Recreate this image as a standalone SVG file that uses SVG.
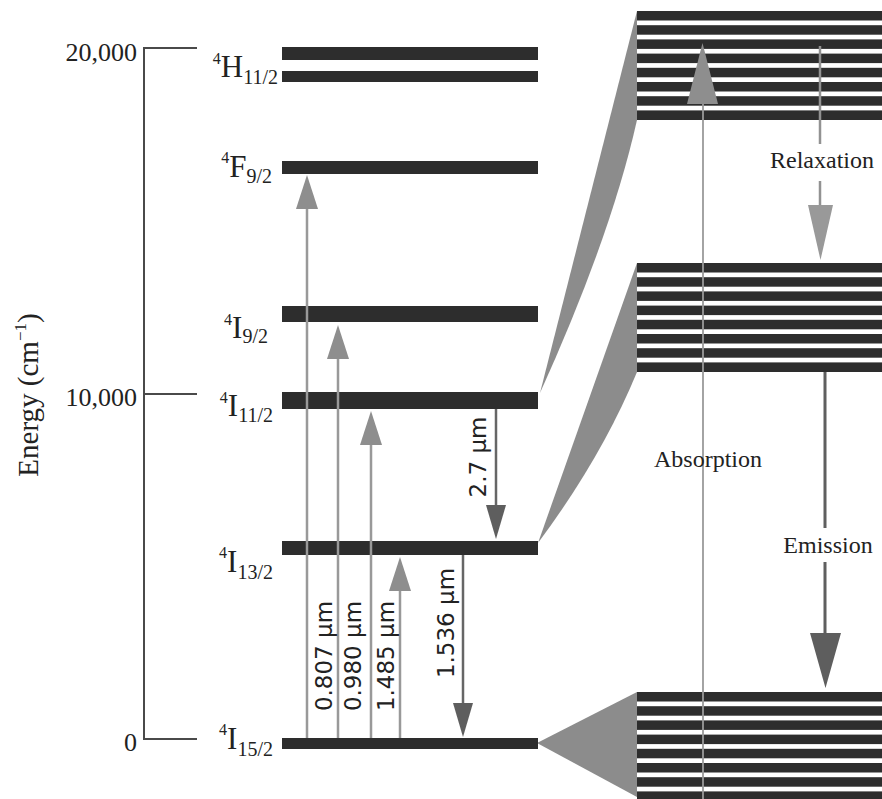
<svg xmlns="http://www.w3.org/2000/svg" width="882" height="799" viewBox="0 0 882 799">
<style>
.bar{fill:#2d2d2d}
.funnel{fill:#8c8c8c}
.axis{stroke:#4a4a4a;stroke-width:2;fill:none}
.serif{font-family:"Liberation Serif","Times New Roman",serif;fill:#222}
.lvl{font-size:31px}
.sup{font-size:16px}
.sub{font-size:20px}
.tick{font-size:26px}
.wl{font-family:"DejaVu Sans","Liberation Sans",sans-serif;font-size:23px;fill:#222}
.lab{font-size:24px;text-anchor:middle}
.up{stroke:#999;stroke-width:2.5;fill:none}
.down{stroke:#666;stroke-width:2.5;fill:none}
</style>
<defs>
<marker id="upHead" markerUnits="userSpaceOnUse" markerWidth="34" markerHeight="22" viewBox="0 0 34 22" refX="0" refY="11" orient="auto">
<path d="M0,0 L34,11 L0,22 Z" fill="#8e8e8e"/>
</marker>
<marker id="downHead" markerUnits="userSpaceOnUse" markerWidth="34" markerHeight="20" viewBox="0 0 34 20" refX="0" refY="10" orient="auto">
<path d="M0,0 L34,10 L0,20 Z" fill="#5e5e5e"/>
</marker>
</defs>
<rect width="882" height="799" fill="#fff"/>

<g id="axis">
<path class="axis" d="M197,48 H144 V739 H197 M144,394 H197"/>
<text class="serif tick" x="137" y="61" text-anchor="end">20,000</text>
<text class="serif tick" x="137" y="406" text-anchor="end">10,000</text>
<text class="serif tick" x="137" y="751" text-anchor="end">0</text>
<text class="serif" font-size="29" text-anchor="middle" transform="translate(38,395) rotate(-90)">Energy (cm<tspan font-size="17" dy="-12">−1</tspan><tspan dy="12">)</tspan></text>
</g>

<g id="funnels">
<path class="funnel" d="M540,393 L637,11 L637,120 Q611,236 540,393 Z"/>
<path class="funnel" d="M538,543 L637,263 L637,372 Q602,457 538,543 Z"/>
<path class="funnel" d="M537,743 L637,692 L637,797 Z"/>
</g>

<g id="H11_2">
<rect class="bar" x="282" y="47" width="256" height="13"/>
<rect class="bar" x="282" y="71" width="256" height="11"/>
<text class="serif lvl" x="278" y="77" text-anchor="end"><tspan class="sup" dy="-13">4</tspan><tspan dy="13">H</tspan><tspan class="sub" dy="7">11/2</tspan></text>
</g>
<g id="F9_2">
<rect class="bar" x="282" y="161" width="256" height="13"/>
<text class="serif lvl" x="272" y="177" text-anchor="end"><tspan class="sup" dy="-14">4</tspan><tspan dy="14">F</tspan><tspan class="sub" dy="6">9/2</tspan></text>
</g>
<g id="I9_2">
<rect class="bar" x="282" y="306" width="256" height="16"/>
<text class="serif lvl" x="268" y="338" text-anchor="end"><tspan class="sup" dy="-13">4</tspan><tspan dy="13">I</tspan><tspan class="sub" dy="5">9/2</tspan></text>
</g>
<g id="I11_2">
<rect class="bar" x="282" y="392" width="256" height="17"/>
<text class="serif lvl" x="273" y="416" text-anchor="end"><tspan class="sup" dy="-13">4</tspan><tspan dy="13">I</tspan><tspan class="sub" dy="6">11/2</tspan></text>
</g>
<g id="I13_2">
<rect class="bar" x="282" y="541" width="256" height="14"/>
<text class="serif lvl" x="273" y="572" text-anchor="end"><tspan class="sup" dy="-14">4</tspan><tspan dy="14">I</tspan><tspan class="sub" dy="7">13/2</tspan></text>
</g>
<g id="I15_2">
<rect class="bar" x="282" y="738" width="256" height="11"/>
<text class="serif lvl" x="273" y="749" text-anchor="end"><tspan class="sup" dy="-14">4</tspan><tspan dy="14">I</tspan><tspan class="sub" dy="7">15/2</tspan></text>
</g>

<g id="band_upper">
<rect class="bar" x="637" y="11" width="245" height="9.5"/>
<rect class="bar" x="637" y="25.2" width="245" height="9.5"/>
<rect class="bar" x="637" y="39.4" width="245" height="9.5"/>
<rect class="bar" x="637" y="53.6" width="245" height="9.5"/>
<rect class="bar" x="637" y="67.8" width="245" height="9.5"/>
<rect class="bar" x="637" y="82" width="245" height="9.5"/>
<rect class="bar" x="637" y="96.2" width="245" height="9.5"/>
<rect class="bar" x="637" y="110.4" width="245" height="9.6"/>
</g>
<g id="band_middle">
<rect class="bar" x="637" y="263" width="245" height="9.5"/>
<rect class="bar" x="637" y="277.2" width="245" height="9.5"/>
<rect class="bar" x="637" y="291.4" width="245" height="9.5"/>
<rect class="bar" x="637" y="305.6" width="245" height="9.5"/>
<rect class="bar" x="637" y="319.8" width="245" height="9.5"/>
<rect class="bar" x="637" y="334" width="245" height="9.5"/>
<rect class="bar" x="637" y="348.2" width="245" height="9.5"/>
<rect class="bar" x="637" y="362.4" width="245" height="9.6"/>
</g>
<g id="band_lower">
<rect class="bar" x="637" y="692" width="245" height="9.5"/>
<rect class="bar" x="637" y="706.2" width="245" height="9.5"/>
<rect class="bar" x="637" y="720.4" width="245" height="9.5"/>
<rect class="bar" x="637" y="734.6" width="245" height="9.5"/>
<rect class="bar" x="637" y="748.8" width="245" height="9.5"/>
<rect class="bar" x="637" y="763" width="245" height="9.5"/>
<rect class="bar" x="637" y="777.2" width="245" height="9.5"/>
<rect class="bar" x="637" y="791.4" width="245" height="9.6"/>
</g>

<g id="connectors">
<line class="up" x1="307" y1="738" x2="307" y2="209" marker-end="url(#upHead)"/>
<line class="up" x1="338" y1="738" x2="338" y2="359" marker-end="url(#upHead)"/>
<line class="up" x1="371" y1="738" x2="371" y2="445" marker-end="url(#upHead)"/>
<line class="up" x1="400" y1="738" x2="400" y2="591" marker-end="url(#upHead)"/>
<line class="down" x1="496" y1="409" x2="496" y2="505" marker-end="url(#downHead)"/>
<line class="down" x1="463" y1="555" x2="463" y2="703" marker-end="url(#downHead)"/>
<line x1="703" y1="799" x2="703" y2="104" stroke="#9a9a9a" stroke-width="1.8"/>
<polygon points="687,104 718,104 702.5,43" fill="#8e8e8e"/>
<path d="M820,46 V144 M820,181 V206" stroke="#929292" stroke-width="2.5" fill="none"/>
<polygon points="808,205 833,205 820.5,260" fill="#999"/>
<path d="M825,372 V528 M825,562 V634" stroke="#5f5f5f" stroke-width="3" fill="none"/>
<polygon points="810,633 841,633 825.5,688" fill="#5e5e5e"/>
</g>

<g id="labels">
<text class="wl" text-anchor="middle" transform="translate(332,656) rotate(-90)">0.807 µm</text>
<text class="wl" text-anchor="middle" transform="translate(361,656) rotate(-90)">0.980 µm</text>
<text class="wl" text-anchor="middle" transform="translate(394,656) rotate(-90)">1.485 µm</text>
<text class="wl" text-anchor="middle" transform="translate(454,623) rotate(-90)">1.536 µm</text>
<text class="wl" text-anchor="middle" transform="translate(486,457) rotate(-90)">2.7 µm</text>
<text class="serif lab" x="822" y="168">Relaxation</text>
<text class="serif lab" x="708" y="467">Absorption</text>
<text class="serif lab" x="828" y="553">Emission</text>
</g>
</svg>
